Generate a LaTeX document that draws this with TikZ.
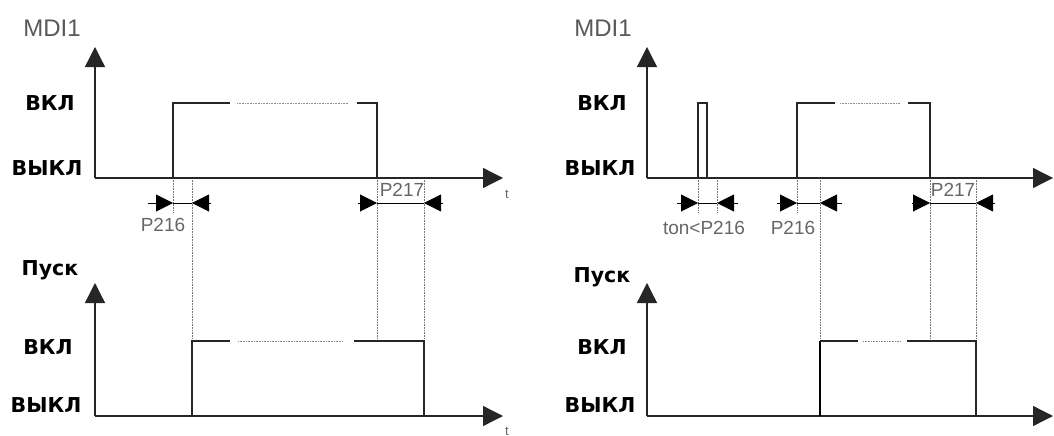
\documentclass[tikz,border=0pt]{standalone}
\usepackage{fontspec}
\setmainfont{DejaVu Sans}
\newfontfamily\graffont{Liberation Sans}
\usetikzlibrary{arrows.meta}
\begin{document}
\begin{tikzpicture}[x=1pt,y=-1pt,
 axis/.style={line width=1.3pt, draw=black!85, -{Triangle[length=20pt,width=20pt]}},
 sig/.style={line width=1.2pt, draw=black!85},
 thicksig/.style={line width=1.8pt, draw=black},
 guide/.style={densely dotted, line width=0.6pt, draw=black!55},
 gap/.style={densely dotted, line width=0.6pt, draw=black!45},
 dimline/.style={line width=1pt, draw=black},
 dimarr/.style={line width=1pt, draw=black, -{Triangle[length=17pt,width=17pt]}},
 lvl/.style={font=\bfseries\fontsize{20.5}{22}\selectfont, inner sep=0, text=black},
 gtxt/.style={font=\graffont\fontsize{19}{21}\selectfont, inner sep=0, text=black!60},
 ttl/.style={font=\graffont\fontsize{24}{26}\selectfont, inner sep=0, text=black!65},
 tlab/.style={font=\graffont\fontsize{13}{14}\selectfont, inner sep=0, text=black!60},
]
\useasboundingbox (0,0) rectangle (1054,436);

% ================= LEFT PANEL =================
\coordinate (LoT) at (95,178);
\coordinate (LyT) at (95,47);
\coordinate (LxT) at (503,178);
\coordinate (LoB) at (95,416);
\coordinate (LyB) at (95,283);
\coordinate (LxB) at (503,416);

\node[ttl] (lmdi) at (52,28) {MDI1};
\node[lvl] (lon1) at (50,103) {ВКЛ};
\node[lvl] (loff1) at (47,168) {ВЫКЛ};
\node[lvl] (lpusk) at (50,270) {Пуск};
\node[lvl] (lon2) at (48,347) {ВКЛ};
\node[lvl] (loff2) at (46,405) {ВЫКЛ};
\node[tlab] (lt1) at (507,194) {t};
\node[tlab] (lt2) at (507,431) {t};

% guides
\draw[guide] (173,178) -- (173,213);
\draw[guide] (192,178) -- (192,341);
\draw[guide] (377,178) -- (377,341);
\draw[guide] (424,178) -- (424,341);

% axes
\draw[axis] (LoT) -- (LyT);
\draw[axis] (LoT) -- (LxT);
\draw[axis] (LoB) -- (LyB);
\draw[axis] (LoB) -- (LxB);

% top signal
\draw[sig] (173,178) -- (173,103) -- (230,103);
\draw[gap] (237,103) -- (348,103);
\draw[sig] (357,103) -- (377,103) -- (377,178);

% bottom signal
\draw[sig] (192,416) -- (192,341) -- (230,341);
\draw[gap] (238,341) -- (343,341);
\draw[sig] (354,341) -- (424,341) -- (424,416);

% P216 dimension
\draw[dimline] (173,203) -- (192,203);
\draw[dimarr] (148,203) -- (173,203);
\draw[dimarr] (211,203) -- (192,203);
\node[gtxt] (lp216) at (163,225) {P216};

% P217 dimension
\draw[dimline] (377,203) -- (424,203);
\draw[dimarr] (358,203) -- (377,203);
\draw[dimarr] (443,203) -- (424,203);
\node[gtxt] (lp217) at (402,190) {P217};

% ================= RIGHT PANEL =================
\coordinate (RoT) at (647,178);
\coordinate (RyT) at (647,47);
\coordinate (RxT) at (1053,178);
\coordinate (RoB) at (647,416);
\coordinate (RyB) at (647,283);
\coordinate (RxB) at (1053,416);

\node[ttl] (rmdi) at (603,28) {MDI1};
\node[lvl] (ron1) at (602,103) {ВКЛ};
\node[lvl] (roff1) at (600,168) {ВЫКЛ};
\node[lvl] (rpusk) at (602,277) {Пуск};
\node[lvl] (ron2) at (602,347) {ВКЛ};
\node[lvl] (roff2) at (600,405) {ВЫКЛ};

% guides
\draw[guide] (698,178) -- (698,213);
\draw[guide] (717,178) -- (717,213);
\draw[guide] (797,178) -- (797,213);
\draw[guide] (820,178) -- (820,341);
\draw[guide] (930,178) -- (930,341);
\draw[guide] (976,178) -- (976,341);

% axes
\draw[axis] (RoT) -- (RyT);
\draw[axis] (RoT) -- (RxT);
\draw[axis] (RoB) -- (RyB);
\draw[axis] (RoB) -- (RxB);

% top signal: short pulse
\draw[sig] (698,178) -- (698,103) -- (707,103) -- (707,178);
% top signal: long pulse
\draw[sig] (797,178) -- (797,103) -- (835,103);
\draw[gap] (840,103) -- (900,103);
\draw[sig] (908,103) -- (930,103) -- (930,178);

% bottom signal
\draw[thicksig] (820,416) -- (820,341);
\draw[sig] (820,341) -- (858,341);
\draw[gap] (863,341) -- (900,341);
\draw[sig] (907,341) -- (976,341) -- (976,416);

% ton<P216 dimension
\draw[dimline] (698,203) -- (717,203);
\draw[dimarr] (677,203) -- (698,203);
\draw[dimarr] (738,203) -- (717,203);
\node[gtxt] (rton) at (704,228) {ton<P216};

% P216 dimension
\draw[dimline] (797,203) -- (820,203);
\draw[dimarr] (777,203) -- (797,203);
\draw[dimarr] (842,203) -- (820,203);
\node[gtxt] (rp216) at (793,228) {P216};

% P217 dimension
\draw[dimline] (930,203) -- (976,203);
\draw[dimarr] (912,203) -- (930,203);
\draw[dimarr] (995,203) -- (976,203);
\node[gtxt] (rp217) at (953,190) {P217};
\end{tikzpicture}
\end{document}
